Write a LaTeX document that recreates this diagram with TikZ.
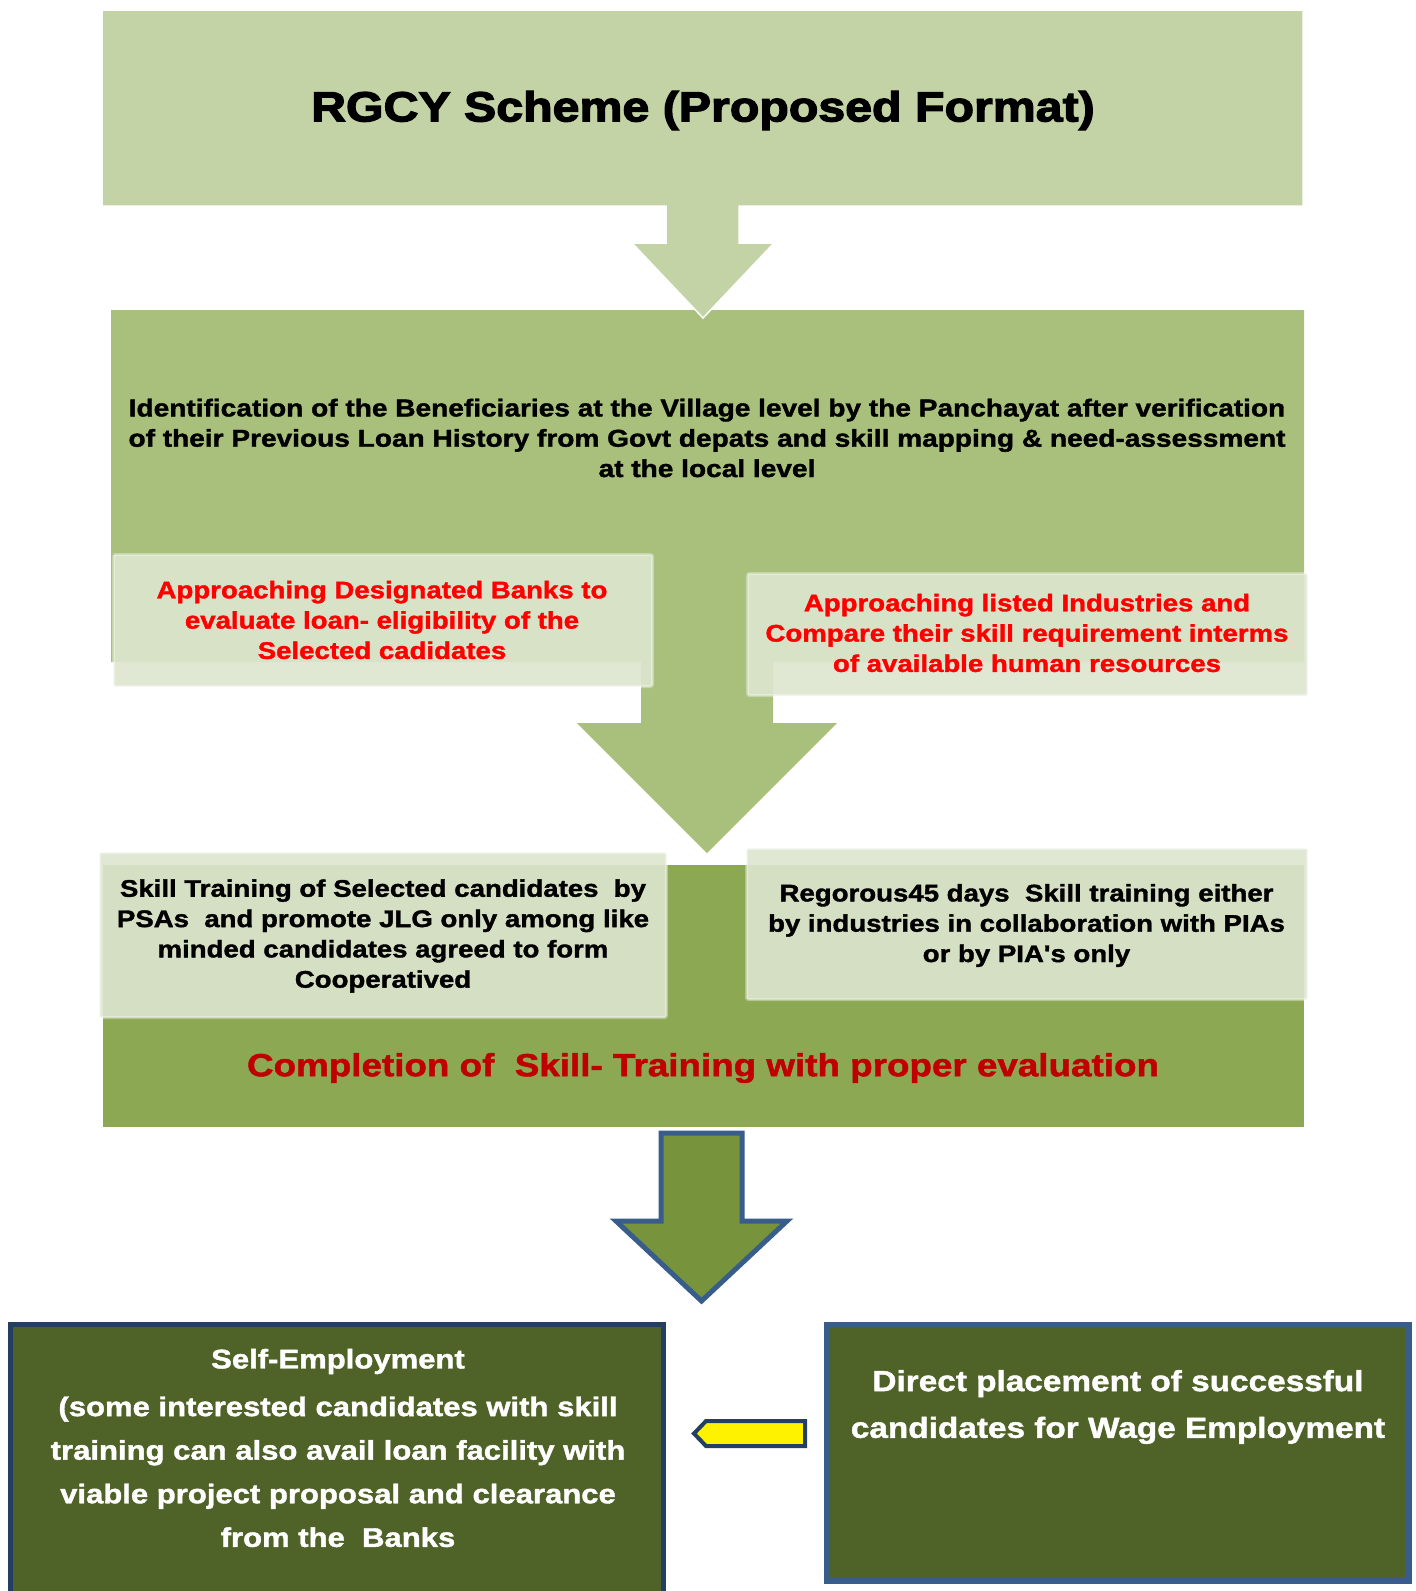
\documentclass[tikz,border=0pt]{standalone}
\usepackage{fontspec}
\newfontfamily\widesans{Liberation Sans}[FakeStretch=1.15, FakeBold=1.5]
\newfontfamily\headsans{Liberation Sans}[FakeStretch=1.15, FakeBold=3]
\newcommand\setfs[2]{\fontsize{#1}{#2}\selectfont}

\definecolor{topgreen}{RGB}{195,211,165}
\definecolor{midgreen}{RGB}{168,192,124}
\definecolor{lowgreen}{RGB}{140,168,82}
\definecolor{panelfill}{RGB}{221,230,208}
\definecolor{brightred}{RGB}{255,0,0}
\definecolor{darkred}{RGB}{192,0,0}
\definecolor{arrowgreen}{RGB}{119,147,60}
\definecolor{blueedge}{RGB}{56,93,138}
\definecolor{navyedge}{RGB}{36,63,96}
\definecolor{olivebox}{RGB}{79,98,40}

\tikzset{
  panel/.style={fill=panelfill, fill opacity=0.9, draw=white, draw opacity=0.35,
    line width=3pt, rounded corners=2pt},
  txt/.style={align=center, inner sep=0pt},
  midtext/.style={txt, font=\widesans\bfseries\setfs{24}{30.3}},
}

\begin{document}
\begin{tikzpicture}[x=1pt,y=-1pt]
\useasboundingbox (0,0) rectangle (1416,1591);
\fill[white] (0,0) rectangle (1416,1591);

% second stage: green panel with its down arrow
\fill[midgreen] (111,310) -- (1304,310) -- (1304,662) -- (773,662) -- (773,723)
  -- (837,723) -- (707,853) -- (577,723) -- (641,723) -- (641,662) -- (111,662) -- cycle;

% third stage panel
\fill[lowgreen] (103,865) rectangle (1304,1127);

% title panel with its down arrow
\path[fill=topgreen, draw=white, line width=1.5pt] (102,10) -- (1303,10) -- (1303,206)
  -- (739,206) -- (739,243) -- (774,243) -- (703,318) -- (632,243) -- (666,243)
  -- (666,206) -- (102,206) -- cycle;

\node[txt, font=\headsans\bfseries\setfs{42}{50}] (title) at (703,110.5)
  {RGCY Scheme (Proposed Format)};

\node[midtext, font=\widesans\bfseries\setfs{24.4}{30.3}] (ident) at (707,438)
  {Identification of the Beneficiaries at the Village level by the Panchayat after verification\\
   of their Previous Loan History from Govt depats and skill mapping \& need-assessment\\
   at the local level};

% option panels
\draw[panel] (113.5,554.5) rectangle (652.5,686.5);
\draw[panel] (747.5,573.5) rectangle (1307.5,695.5);
\draw[panel] (99.5,852.5) rectangle (666.5,1017.5);
\draw[panel] (746.5,848.5) rectangle (1307.5,999.5);

\node[midtext, text=brightred] (banks) at (382,620)
  {Approaching Designated Banks to\\ evaluate loan- eligibility of the\\ Selected cadidates};
\node[midtext, text=brightred] (industries) at (1027,633)
  {Approaching listed Industries and\\ Compare their skill requirement interms\\ of available human resources};

\node[midtext] (psa) at (383,936)
  {Skill Training of Selected candidates \ by\\ PSAs \ and promote JLG only among like\\
   minded candidates agreed to form\\ Cooperatived};
\node[midtext] (pia) at (1026.5,925.5)
  {Regorous45 days \ Skill training either\\ by industries in collaboration with PIAs\\ or by PIA's only};

\node[txt, text=darkred, font=\widesans\bfseries\setfs{32}{38}] (complete) at (703,1068)
  {Completion of \ Skill- Training with proper evaluation};

% arrow to the outcomes
\path[fill=arrowgreen, draw=blueedge, line width=5pt] (661,1133) -- (742,1133) -- (742,1221)
  -- (787,1221) -- (701.5,1301) -- (616,1221) -- (661,1221) -- cycle;

% outcome panels
\draw[fill=olivebox, draw=navyedge, line width=5pt] (10.5,1324.5) rectangle (663.5,1600);
\draw[fill=olivebox, draw=blueedge, line width=6pt] (827,1325) rectangle (1409,1581);

\node[txt, text=white, font=\widesans\bfseries\setfs{27}{43.6}] (self) at (338,1448)
  {Self-Employment\\[4pt] (some interested candidates with skill\\ training can also avail loan facility with\\
   viable project proposal and clearance\\ from the \ Banks};
\node[txt, text=white, font=\widesans\bfseries\setfs{29}{46.7}] (wage) at (1118,1407)
  {Direct placement of successful\\ candidates for Wage Employment};

% small pointer between the outcome panels
\draw[fill=yellow, draw=navyedge, line width=4pt, line join=miter]
  (805,1421) -- (805,1446) -- (706,1446) -- (694,1433.5) -- (706,1421) -- cycle;
\end{tikzpicture}
\end{document}
